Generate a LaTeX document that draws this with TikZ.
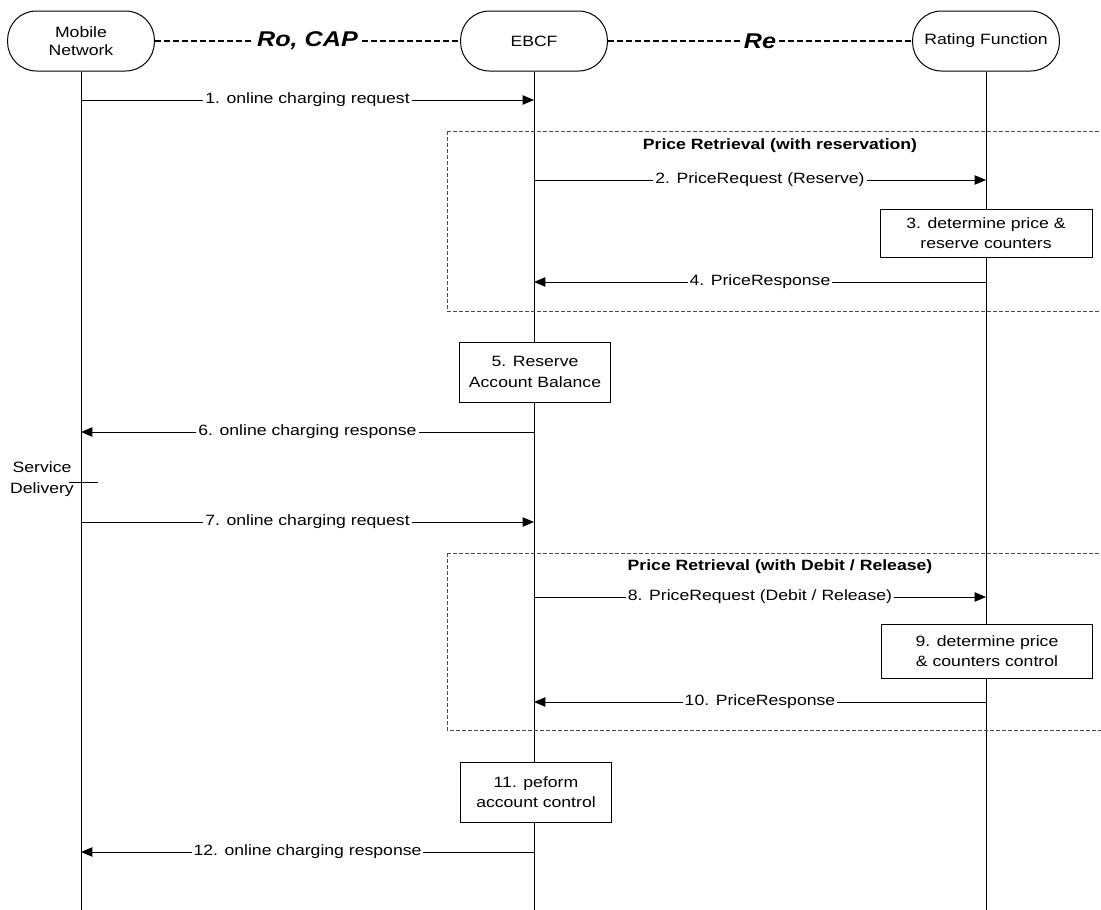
\documentclass[tikz,border=0pt]{standalone}
\usepackage{fontspec}
\setmainfont[FakeStretch=1.18]{Liberation Sans}
\usepackage{tikz}
\usetikzlibrary{arrows.meta}

\begin{document}
\begin{tikzpicture}[x=0.75pt,y=0.75pt,yscale=-1,xscale=1,
  every node/.style={font=\fontsize{11.2}{15.5}\selectfont},
  entity/.style={draw,line width=0.75pt,rounded corners=21.5pt,minimum width=110pt,minimum height=45pt,align=center,font=\fontsize{11.2}{13.5}\selectfont},
  actbox/.style={draw,line width=0.75pt,fill=white,align=center,inner sep=0pt},
  msg/.style={-{Triangle[length=8.5pt,width=7pt]},line width=0.75pt},
  lbl/.style={fill=white,inner sep=1.5pt},
  iface/.style={line width=1.5pt,dash pattern=on 4.5pt off 2.25pt},
  iflbl/.style={fill=white,inner sep=2pt,font=\fontsize{16}{18}\selectfont\bfseries\itshape},
  region/.style={draw=black!70,line width=0.75pt,dash pattern=on 3pt off 1.5pt},
  regtitle/.style={font=\fontsize{11.2}{15}\selectfont\bfseries}]
%set diagram size 1101 x 910
\clip (0,0) rectangle (1101,910);

%Shape: Entities
\node[entity] (mn) at (81,41) {Mobile\\Network};
\node[entity] (ebcf) at (534,41) {EBCF};
\node[entity] (rf) at (986,41) {Rating Function};

%Shape: Lifelines
\coordinate (mn-end) at (81,910);
\coordinate (ebcf-end) at (534,910);
\coordinate (rf-end) at (986,910);
\draw[line width=0.75pt] (mn.south) -- (mn-end);
\draw[line width=0.75pt] (ebcf.south) -- (ebcf-end);
\draw[line width=0.75pt] (rf.south) -- (rf-end);

%Shape: Interfaces
\draw[iface] (mn) -- node[iflbl] (ro) {Ro, CAP} (ebcf);
\draw[iface] (ebcf) -- node[iflbl] (re) {Re} (rf);

%Shape: Dashed regions
\draw[region] (447,131) rectangle (1115,311);
\draw[region] (447,553) rectangle (1115,730);
% Text Node
\node[regtitle] (reg1) at (780,146) {Price Retrieval (with reservation)};
% Text Node
\node[regtitle] (reg2) at (780,567) {Price Retrieval (with Debit / Release)};

%Shape: Messages
\coordinate (m1a) at (81,100);  \coordinate (m1b) at (534,100);
\draw[msg] (m1a) -- node[lbl] {1. online charging request} (m1b);
\coordinate (m2a) at (534,180); \coordinate (m2b) at (986,180);
\draw[msg] (m2a) -- node[lbl] {2. PriceRequest (Reserve)} (m2b);
\coordinate (m4a) at (986,282); \coordinate (m4b) at (534,282);
\draw[msg] (m4a) -- node[lbl] {4. PriceResponse} (m4b);
\coordinate (m6a) at (534,432); \coordinate (m6b) at (81,432);
\draw[msg] (m6a) -- node[lbl] {6. online charging response} (m6b);
\coordinate (m7a) at (81,522);  \coordinate (m7b) at (534,522);
\draw[msg] (m7a) -- node[lbl] {7. online charging request} (m7b);
\coordinate (m8a) at (534,597); \coordinate (m8b) at (986,597);
\draw[msg] (m8a) -- node[lbl] {8. PriceRequest (Debit / Release)} (m8b);
\coordinate (m10a) at (986,702); \coordinate (m10b) at (534,702);
\draw[msg] (m10a) -- node[lbl] {10. PriceResponse} (m10b);
\coordinate (m12a) at (534,852); \coordinate (m12b) at (81,852);
\draw[msg] (m12a) -- node[lbl] {12. online charging response} (m12b);

%Shape: Action boxes
\node[actbox,minimum width=159pt,minimum height=36pt] (b3) at (986,233) {3. determine price \&\\reserve counters};
\node[actbox,minimum width=113pt,minimum height=45pt] (b5) at (535,372) {5. Reserve\\Account Balance};
\node[actbox,minimum width=158pt,minimum height=40.5pt] (b9) at (987,651) {9. determine price\\\& counters control};
\node[actbox,minimum width=113pt,minimum height=45pt] (b11) at (536,792) {11. peform\\account control};

% Text Node
\node[align=center] (sd) at (42,479) {Service\\Delivery};
\coordinate (sd-a) at (69,482); \coordinate (sd-b) at (98,482);
\draw[line width=0.75pt] (sd-a) -- (sd-b);

\end{tikzpicture}
\end{document}
